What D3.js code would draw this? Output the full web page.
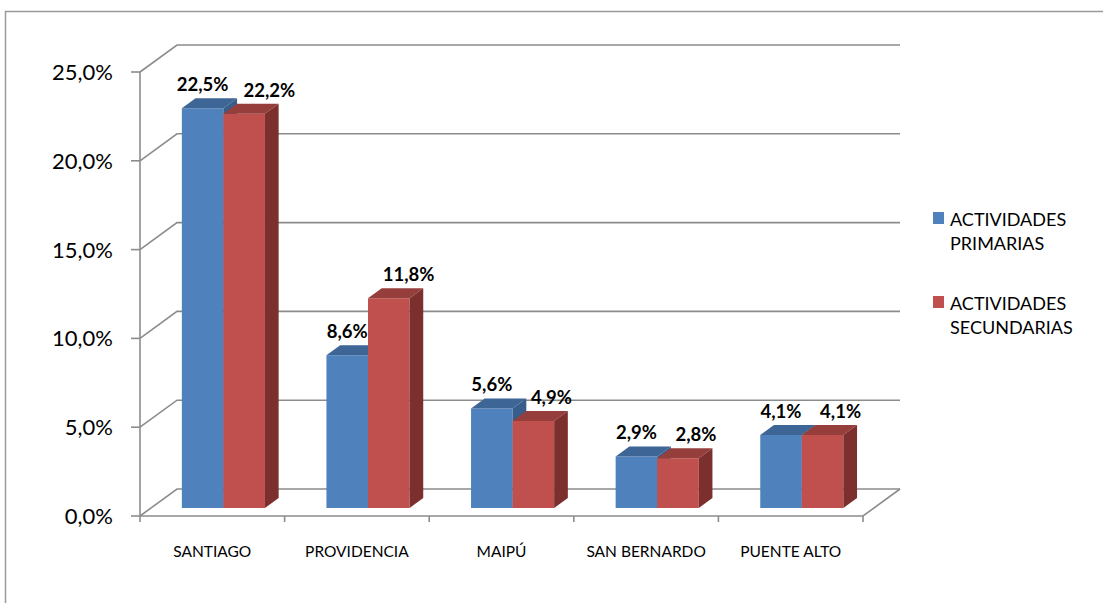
<!DOCTYPE html>
<html>
<head>
<meta charset="utf-8">
<script src="https://cdn.jsdelivr.net/npm/d3@7"></script>
<style>
  body { margin: 0; background: #fff; }
  svg { display: block; font-family: Lato, "Open Sans", sans-serif; }
</style>
</head>
<body>
<svg id="chart" width="1103" height="603"></svg>
<script>
// chart data
const comunas = ["SANTIAGO", "PROVIDENCIA", "MAIPÚ", "SAN BERNARDO", "PUENTE ALTO"];
const primarias = [22.5, 8.6, 5.6, 2.9, 4.1];
const secundarias = [22.2, 11.8, 4.9, 2.8, 4.1];
const seriesNames = ["ACTIVIDADES PRIMARIAS", "ACTIVIDADES SECUNDARIAS"];
const yTicks = [0, 5, 10, 15, 20, 25];

const svg = d3.select("#chart");

// colours per series: front, top, side
const colors = [
    { front: "#4f81bd", top: "#3d6596", side: "#385d8a" },
    { front: "#c0504d", top: "#963e3b", side: "#7b302e" }
];

// 3d depth vector (full depth of the plot box)
const depthX = 37, depthY = -27;
const zFront = 0.3, zBack = 0.67;

let y = d3.scaleLinear().domain([0, 25]).range([516, 72]);
let x0 = d3.scaleBand().domain(comunas).range([140, 863]);
let x1 = d3.scaleBand().domain([0, 1]).range([0, x0.bandwidth()]).paddingOuter(0.74);

function proj(px, py, z) {
    return [px + depthX * z, py + depthY * z];
}

// outer frame
svg.append("rect")
    .attr("x", 5.5).attr("y", 11.5)
    .attr("width", 1110).attr("height", 610)
    .attr("fill", "none")
    .attr("stroke", "#9a9a9a")
    .attr("stroke-width", 1.5);

const gridColor = "#8c8c8c";
let grid = svg.append("g")
    .attr("stroke", gridColor)
    .attr("stroke-width", 1.6)
    .attr("fill", "none");

// back wall lines + side wall diagonals
yTicks.forEach(t => {
    let a = [140, y(t)];
    let b = proj(140, y(t), 1);
    let c = proj(863, y(t), 1);
    grid.append("path").attr("d", d3.line()([a, b, c]));
    // tick on the y axis
    grid.append("line")
        .attr("x1", 131).attr("x2", 140)
        .attr("y1", y(t)).attr("y2", y(t));
});

// y axis line
grid.append("line")
    .attr("x1", 140).attr("x2", 140)
    .attr("y1", y(25)).attr("y2", y(0));

// floor front edge and right edge
grid.append("path").attr("d", d3.line()([[140, y(0)], [863, y(0)], proj(863, y(0), 1)]));

// category ticks
let catEdges = comunas.map(c => x0(c)).concat([x0.range()[1]]);
catEdges.forEach(e => {
    grid.append("line")
        .attr("x1", e).attr("x2", e)
        .attr("y1", y(0)).attr("y2", y(0) + 6);
});

// y tick labels
svg.append("g").selectAll("text")
    .data(yTicks)
    .join("text")
    .attr("x", 113)
    .attr("y", d => y(d) + 8)
    .attr("text-anchor", "end")
    .attr("font-size", 22)
    .attr("fill", "#000")
    .text(d => d.toFixed(1).replace(".", ",") + "%");

// category labels
svg.append("g").selectAll("text")
    .data(comunas)
    .join("text")
    .attr("x", d => x0(d) + x0.bandwidth() / 2)
    .attr("y", 557)
    .attr("text-anchor", "middle")
    .attr("font-size", 15.5)
    .attr("fill", "#000")
    .text(d => d);

// bars
let bars = svg.append("g");
let labels = svg.append("g")
    .attr("font-size", 18.5)
    .attr("font-weight", "bold")
    .attr("text-anchor", "middle");

comunas.forEach((c, i) => {
    let vals = [primarias[i], secundarias[i]];
    let prevRight = null;
    vals.forEach((v, s) => {
        let xl = x0(c) + x1(s);
        let xr = xl + x1.bandwidth();
        let col = colors[s];

        let fBL = proj(xl, y(0), zFront), fBR = proj(xr, y(0), zFront);
        let fTL = proj(xl, y(v), zFront), fTR = proj(xr, y(v), zFront);
        let bTL = proj(xl, y(v), zBack), bTR = proj(xr, y(v), zBack);
        let bBR = proj(xr, y(0), zBack);

        bars.append("path")
            .attr("d", d3.line()([fBL, fTL, fTR, fBR]) + "Z")
            .attr("fill", col.front);
        bars.append("path")
            .attr("d", d3.line()([fTL, bTL, bTR, fTR]) + "Z")
            .attr("fill", col.top);
        bars.append("path")
            .attr("d", d3.line()([fBR, fTR, bTR, bBR]) + "Z")
            .attr("fill", col.side);

        // data label
        let label = labels.append("text")
            .attr("y", bTL[1] - 7)
            .text(v.toFixed(1).replace(".", ",") + "%");
        let w = label.node().getComputedTextLength();
        let cx = (fTL[0] + fTR[0]) / 2 + (s === 1 ? 18 : 0);
        if (prevRight !== null) cx = Math.max(cx, prevRight + 15 + w / 2);
        label.attr("x", cx);
        prevRight = cx + w / 2;
    });
});

// legend
let legend = svg.append("g").attr("font-size", 18).attr("fill", "#000");
let legendY = [212, 296];
seriesNames.forEach((name, s) => {
    legend.append("rect")
        .attr("x", 933).attr("y", legendY[s])
        .attr("width", 11).attr("height", 12)
        .attr("fill", colors[s].front);
    let words = name.split(" ");
    words.forEach((wd, k) => {
        legend.append("text")
            .attr("x", 950)
            .attr("y", legendY[s] + 14 + k * 24)
            .text(wd);
    });
});
</script>
</body>
</html>
